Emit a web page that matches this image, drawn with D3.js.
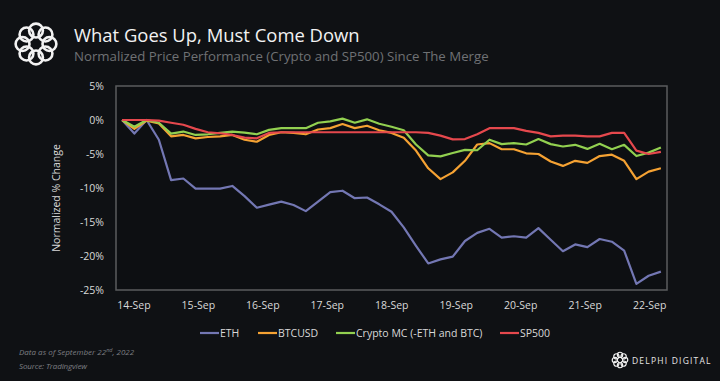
<!DOCTYPE html>
<html>
<head>
<meta charset="utf-8">
<script src="https://cdn.jsdelivr.net/npm/d3@7"></script>
<style>
  html, body { margin: 0; padding: 0; background: #0f1114; }
  svg { display: block; }
</style>
</head>
<body>
<div id="chart"></div>
<script>
// Data (normalized % change, ~45 samples)
const seriesNames = ["ETH", "BTCUSD", "Crypto MC (-ETH and BTC)", "SP500"];
const seriesColors = ["#7377b3", "#f5a233", "#92d050", "#e5484d"];
const dayLabels = ["14-Sep", "15-Sep", "16-Sep", "17-Sep", "18-Sep", "19-Sep", "20-Sep", "21-Sep", "22-Sep"];
const yTicks = [5, 0, -5, -10, -15, -20, -25];

const eth = [0, -2.0, 0, -2.9, -8.85, -8.6, -10.1, -10.1, -10.1, -9.7,
  -11.2, -12.9, -12.45, -12.0, -12.5, -13.4, -12.0, -10.6, -10.4, -11.5,
  -11.4, -12.4, -13.5, -15.8, -18.5, -21.1, -20.5, -20.1, -17.8, -16.6,
  -16.0, -17.3, -17.1, -17.3, -15.9, -17.6, -19.3, -18.3, -18.7, -17.5,
  -17.9, -19.2, -24.1, -22.9, -22.3];
const btcusd = [0, -1.3, -0.1, -0.5, -2.4, -2.2, -2.7, -2.5, -2.4, -2.2,
  -2.9, -3.2, -2.2, -1.8, -1.9, -2.1, -1.4, -1.2, -0.6, -1.2,
  -0.85, -1.5, -1.9, -2.6, -4.5, -7.1, -8.7, -7.7, -6.0, -3.6,
  -3.4, -4.3, -4.3, -4.9, -5.0, -6.1, -6.75, -6.0, -6.3, -5.3,
  -5.1, -6.0, -8.7, -7.6, -7.1];
const cryptoMc = [0, -1.0, 0, -0.4, -2.0, -1.7, -2.2, -2.1, -1.9, -1.7,
  -1.85, -2.1, -1.45, -1.2, -1.2, -1.2, -0.4, -0.2, 0.2, -0.4,
  0.1, -0.55, -1.0, -1.5, -3.6, -5.2, -5.35, -4.85, -4.4, -4.45,
  -2.9, -3.55, -3.4, -3.6, -2.8, -3.55, -3.9, -3.65, -4.25, -3.5,
  -4.3, -3.65, -5.3, -4.8, -4.05];
const sp500 = [0, 0, 0, -0.1, -0.4, -0.7, -1.3, -1.8, -1.95, -2.2,
  -2.6, -2.7, -1.9, -1.8, -1.8, -1.8, -1.8, -1.8, -1.8, -1.8,
  -1.8, -1.8, -1.8, -1.8, -1.8, -1.9, -2.3, -2.85, -2.8, -2.1,
  -1.2, -1.2, -1.2, -1.6, -1.9, -2.4, -2.3, -2.3, -2.4, -2.4,
  -1.9, -1.9, -4.5, -5.0, -4.7];

const allSeries = [eth, btcusd, cryptoMc, sp500];

const width = 720;
const height = 381;
const plot = { left: 116, right: 667, top: 86, bottom: 290 };
const font = "'Open Sans', sans-serif";

const svg = d3.select("#chart").append("svg")
  .attr("width", width)
  .attr("height", height)
  .style("background", "#0f1114");

// logo: ring of interlocking loops
function drawLogo(g, r, stroke) {
  const k = 8;
  d3.range(k).forEach(i => {
    const a = i / k * 2 * Math.PI;
    g.append("circle")
      .attr("cx", Math.cos(a) * r * 0.64)
      .attr("cy", Math.sin(a) * r * 0.64)
      .attr("r", r * 0.33)
      .attr("fill", "none")
      .attr("stroke", "#f2f2f2")
      .attr("stroke-width", stroke);
  });
}
drawLogo(svg.append("g").attr("transform", "translate(36,44)"), 21, 2.6);

// fit a text to a measured width
function fitText(t, w) {
  const len = t.node().getComputedTextLength();
  const fs = parseFloat(t.attr("font-size"));
  t.attr("font-size", fs * w / len);
}

const title = svg.append("text")
  .attr("x", 74).attr("y", 42)
  .attr("font-family", font).attr("font-size", 20)
  .attr("fill", "#f2f2f2")
  .text("What Goes Up, Must Come Down");
fitText(title, 286);

const subtitle = svg.append("text")
  .attr("x", 74).attr("y", 61)
  .attr("font-family", font).attr("font-size", 13)
  .attr("fill", "#6f7174")
  .text("Normalized Price Performance (Crypto and SP500) Since The Merge");
fitText(subtitle, 415);

// scales
const n = eth.length;
const x = d3.scaleLinear()
  .domain([-0.5, n - 0.5])
  .range([plot.left, plot.right]);

const y = d3.scaleLinear()
  .domain([-25, 5])
  .range([plot.bottom, plot.top]);

// date labels sit at fractional sample positions (~5.27 samples per day)
const dayStep = 5.265, dayOffset = 0.92;

// plot frame
svg.append("rect")
  .attr("x", plot.left).attr("y", plot.top)
  .attr("width", plot.right - plot.left)
  .attr("height", plot.bottom - plot.top)
  .attr("fill", "#0d0f12")
  .attr("stroke", "#5b5c5e")
  .attr("stroke-width", 1.5);

// y axis
const yAxis = svg.append("g")
  .attr("transform", `translate(${plot.left},0)`)
  .call(d3.axisLeft(y).tickValues(yTicks).tickSize(0).tickPadding(12).tickFormat(d => d + "%"));
yAxis.select(".domain").remove();
yAxis.selectAll("text")
  .attr("font-family", font).attr("font-size", 10.5)
  .attr("fill", "#d9d9d9");

svg.append("text")
  .attr("transform", `translate(60,${(plot.top + plot.bottom) / 2 + 10}) rotate(-90)`)
  .attr("text-anchor", "middle")
  .attr("font-family", font).attr("font-size", 10.5)
  .attr("fill", "#d9d9d9")
  .text("Normalized % Change");

// x axis
const xAxis = svg.append("g")
  .attr("transform", `translate(0,${plot.bottom})`)
  .call(d3.axisBottom(x)
    .tickValues(dayLabels.map((d, i) => dayOffset + i * dayStep))
    .tickSize(0).tickPadding(12)
    .tickFormat((d, i) => dayLabels[i]));
xAxis.select(".domain").remove();
xAxis.selectAll("text")
  .attr("font-family", font).attr("font-size", 10.5)
  .attr("fill", "#d9d9d9");

// lines
const line = d3.line()
  .x((d, i) => x(i))
  .y(d => y(d));

svg.append("g")
  .selectAll("path")
  .data(allSeries)
  .join("path")
  .attr("fill", "none")
  .attr("stroke", (d, i) => seriesColors[i])
  .attr("stroke-width", 2.2)
  .attr("stroke-linejoin", "round")
  .attr("d", d => line(d));

// legend
const legendX = [200, 258, 336, 500];
const legend = svg.append("g");
seriesNames.forEach((name, i) => {
  legend.append("line")
    .attr("x1", legendX[i]).attr("x2", legendX[i] + 19)
    .attr("y1", 333).attr("y2", 333)
    .attr("stroke", seriesColors[i]).attr("stroke-width", 2.2);
  legend.append("text")
    .attr("x", legendX[i] + 20).attr("y", 337)
    .attr("font-family", font).attr("font-size", 10.5)
    .attr("fill", "#d9d9d9")
    .text(name);
});

// footer
const foot = svg.append("g")
  .attr("font-family", font).attr("font-style", "italic")
  .attr("font-size", 8).attr("fill", "#7d7f83");
const f1 = foot.append("text").attr("x", 19).attr("y", 355);
f1.append("tspan").text("Data as of September 22");
f1.append("tspan").attr("font-size", 5.5).attr("dy", -3).text("nd");
f1.append("tspan").attr("dy", 3).text(", 2022");
foot.append("text").attr("x", 19).attr("y", 369)
  .attr("textLength", 68).attr("lengthAdjust", "spacing")
  .text("Source: Tradingview");

drawLogo(svg.append("g").attr("transform", "translate(620,360)"), 8, 1.2);
svg.append("text")
  .attr("x", 632).attr("y", 363.5)
  .attr("font-family", font).attr("font-size", 8.5)
  .attr("letter-spacing", 1.2)
  .attr("fill", "#e6e6e6")
  .text("DELPHI DIGITAL");
</script>
</body>
</html>
